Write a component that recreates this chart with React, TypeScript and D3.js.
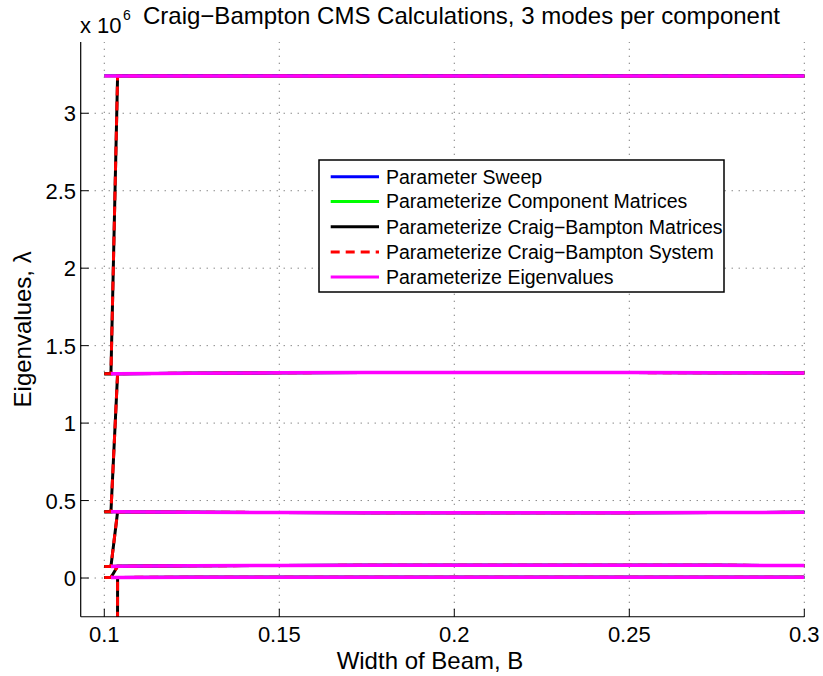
import React from "react";
import * as d3 from "d3";

// ---- data (values in absolute units) ----
const widthB = [0.1, 0.1019, 0.1038, 0.125, 0.15, 0.175, 0.2, 0.225, 0.25, 0.275, 0.3];

// Parameter sweep eigenvalues per mode
const sweepMode1 = [4000, 4000, 4000, 5000, 5000, 5000, 5000, 5000, 5000, 5000, 5000];
const sweepMode2 = [75000, 75000, 76000, 79000, 81000, 82000, 82000, 82000, 82000, 82000, 81000];
const sweepMode3 = [428000, 428000, 427000, 425000, 423000, 422000, 421000, 421000, 422000, 423000, 424000];
const sweepMode4 = [1318000, 1318000, 1319000, 1322000, 1325000, 1327000, 1327000, 1327000, 1326000, 1325000, 1324000];
const sweepMode5 = [3243000, 3243000, 3243000, 3243000, 3243000, 3243000, 3243000, 3243000, 3243000, 3243000, 3243000];

// Parameterize component matrices
const compMode1 = [4000, 4000, 4000, 5000, 5000, 5000, 5000, 5000, 5000, 5000, 5000];
const compMode2 = [75000, 75000, 76000, 79000, 81000, 82000, 82000, 82000, 82000, 82000, 81000];
const compMode3 = [428000, 428000, 427000, 425000, 423000, 422000, 421000, 421000, 422000, 423000, 424000];
const compMode4 = [1318000, 1318000, 1319000, 1322000, 1325000, 1327000, 1327000, 1327000, 1326000, 1325000, 1324000];
const compMode5 = [3241000, 3241000, 3241000, 3241000, 3241000, 3241000, 3241000, 3241000, 3241000, 3241000, 3241000];

// Parameterize Craig-Bampton matrices / system (same values)
const cbMode1 = [-50000000, -50000000, 4000, 5000, 5000, 5000, 5000, 5000, 5000, 5000, 5000];
const cbMode2 = [4000, 4000, 76000, 79000, 81000, 82000, 82000, 82000, 82000, 82000, 81000];
const cbMode3 = [75000, 75000, 427000, 425000, 423000, 422000, 421000, 421000, 422000, 423000, 424000];
const cbMode4 = [428000, 428000, 1319000, 1322000, 1325000, 1327000, 1327000, 1327000, 1326000, 1325000, 1324000];
const cbMode5 = [1318000, 1318000, 3240000, 3240000, 3240000, 3240000, 3240000, 3240000, 3240000, 3240000, 3240000];

// Parameterize eigenvalues (null = not drawn)
const eigMode1 = [null, 4000, 4000, 5000, 5000, 5000, 5000, 5000, 5000, 5000, 5000];
const eigMode2 = [null, 75000, 76000, 79000, 81000, 82000, 82000, 82000, 82000, 82000, 81000];
const eigMode3 = [null, 428000, 427000, 425000, 423000, 422000, 421000, 421000, 422000, 423000, 424000];
const eigMode4 = [null, 1318000, 1319000, 1322000, 1325000, 1327000, 1327000, 1327000, 1326000, 1325000, 1324000];
const eigMode5 = [3240000, 3240000, 3240000, 3240000, 3240000, 3240000, 3240000, 3240000, 3240000, 3240000, 3240000];

const xTicks = [0.1, 0.15, 0.2, 0.25, 0.3];
const xTickLabels = ["0.1", "0.15", "0.2", "0.25", "0.3"];
const yTicks = [0, 500000, 1000000, 1500000, 2000000, 2500000, 3000000];
const yTickLabels = ["0", "0.5", "1", "1.5", "2", "2.5", "3"];

const legendLabels = [
  "Parameter Sweep",
  "Parameterize Component Matrices",
  "Parameterize Craig\u2212Bampton Matrices",
  "Parameterize Craig\u2212Bampton System",
  "Parameterize Eigenvalues",
];

const titleText = "Craig\u2212Bampton CMS Calculations, 3 modes per component";
const xLabelText = "Width of Beam, B";
const yLabelText = "Eigenvalues, \u03bb";

const seriesDefs = [
  { modes: [sweepMode1, sweepMode2, sweepMode3, sweepMode4, sweepMode5], color: "#0000ff", dash: null },
  { modes: [compMode1, compMode2, compMode3, compMode4, compMode5], color: "#00ff00", dash: null },
  { modes: [cbMode1, cbMode2, cbMode3, cbMode4, cbMode5], color: "#000000", dash: null },
  { modes: [cbMode1, cbMode2, cbMode3, cbMode4, cbMode5], color: "#ff0000", dash: "9,6" },
  { modes: [eigMode1, eigMode2, eigMode3, eigMode4, eigMode5], color: "#ff00ff", dash: null },
];

const W = 823;
const H = 676;
const left = 80.7;
const right = 804.3;
const top = 42;
const bottom = 616.75;
const font = "'Liberation Sans', Arial, Helvetica, sans-serif";

export default function App() {
  const x = d3.scaleLinear().domain([0.09326, 0.3]).range([left, right]);
  const y = d3.scaleLinear().domain([-250000, 3460000]).range([bottom, top]);

  const line = d3
    .line<number | null>()
    .defined((d) => d !== null)
    .x((_, i) => x(widthB[i]))
    .y((d) => y(d as number));

  const legX = 319;
  const legY = 160;
  const legW = 405;
  const legH = 132;
  const rowY = [176.7, 201.5, 226.7, 251.9, 277.1];

  return (
    <svg
      width={W}
      height={H}
      style={{ position: "absolute", left: 0, top: 0, background: "#fff" }}
      fontFamily={font}
    >
      <rect x={0} y={0} width={W} height={H} fill="#fff" />
      <defs>
        <clipPath id="plotclip">
          <rect x={left} y={top} width={right - left + 2} height={bottom - top} />
        </clipPath>
      </defs>

      {/* grid */}
      {xTicks.map((t, i) => (
        <line
          key={"gx" + i}
          x1={x(t)}
          x2={x(t)}
          y1={bottom}
          y2={top}
          stroke="#555"
          strokeWidth={1}
          strokeDasharray="1,6"
        />
      ))}
      {yTicks.map((t, i) => (
        <line
          key={"gy" + i}
          x1={left}
          x2={right}
          y1={y(t)}
          y2={y(t)}
          stroke="#555"
          strokeWidth={1}
          strokeDasharray="1,6"
        />
      ))}

      {/* series */}
      <g clipPath="url(#plotclip)">
        {seriesDefs.map((s, si) =>
          s.modes.map((m, mi) => (
            <path
              key={"s" + si + "m" + mi}
              d={line(m as (number | null)[]) || ""}
              fill="none"
              stroke={s.color}
              strokeWidth={si === 4 ? 3.5 : 3}
              strokeDasharray={s.dash || undefined}
              strokeLinejoin="miter"
            />
          ))
        )}
      </g>

      {/* axes */}
      <line x1={left} x2={left} y1={top} y2={bottom} stroke="#000" strokeWidth={1.2} />
      <line x1={left} x2={right} y1={bottom} y2={bottom} stroke="#000" strokeWidth={1.2} />
      {xTicks.map((t, i) => (
        <line key={"tx" + i} x1={x(t)} x2={x(t)} y1={bottom} y2={bottom - 8} stroke="#000" strokeWidth={1} />
      ))}
      {yTicks.map((t, i) => (
        <line key={"ty" + i} x1={left} x2={left + 8} y1={y(t)} y2={y(t)} stroke="#000" strokeWidth={1} />
      ))}

      {/* tick labels */}
      {xTicks.map((t, i) => (
        <text key={"lx" + i} x={x(t)} y={642} fontSize={22} textAnchor="middle" fill="#000">
          {xTickLabels[i]}
        </text>
      ))}
      {yTicks.map((t, i) => (
        <text key={"ly" + i} x={76} y={y(t) + 8} fontSize={22} textAnchor="end" fill="#000">
          {yTickLabels[i]}
        </text>
      ))}

      {/* exponent */}
      <text x={80} y={33} fontSize={22} fill="#000">
        x 10
      </text>
      <text x={123} y={20} fontSize={14} fill="#000">
        6
      </text>

      {/* title */}
      <text x={143} y={24} fontSize={24} fill="#000">
        {titleText}
      </text>

      {/* axis labels */}
      <text x={430} y={669} fontSize={24} textAnchor="middle" fill="#000">
        {xLabelText}
      </text>
      <text
        transform={`translate(31,${(top + bottom) / 2}) rotate(-90)`}
        fontSize={24}
        textAnchor="middle"
        fill="#000"
      >
        {yLabelText}
      </text>

      {/* legend */}
      <rect x={legX} y={legY} width={legW} height={legH} fill="#fff" stroke="#000" strokeWidth={1.5} />
      {legendLabels.map((lab, i) => (
        <g key={"lg" + i}>
          <line
            x1={330.7}
            x2={379}
            y1={rowY[i]}
            y2={rowY[i]}
            stroke={seriesDefs[i].color}
            strokeWidth={3}
            strokeDasharray={seriesDefs[i].dash || undefined}
          />
          <text x={386} y={rowY[i]} dy="0.35em" fontSize={19.5} fill="#000">
            {lab}
          </text>
        </g>
      ))}
    </svg>
  );
}
